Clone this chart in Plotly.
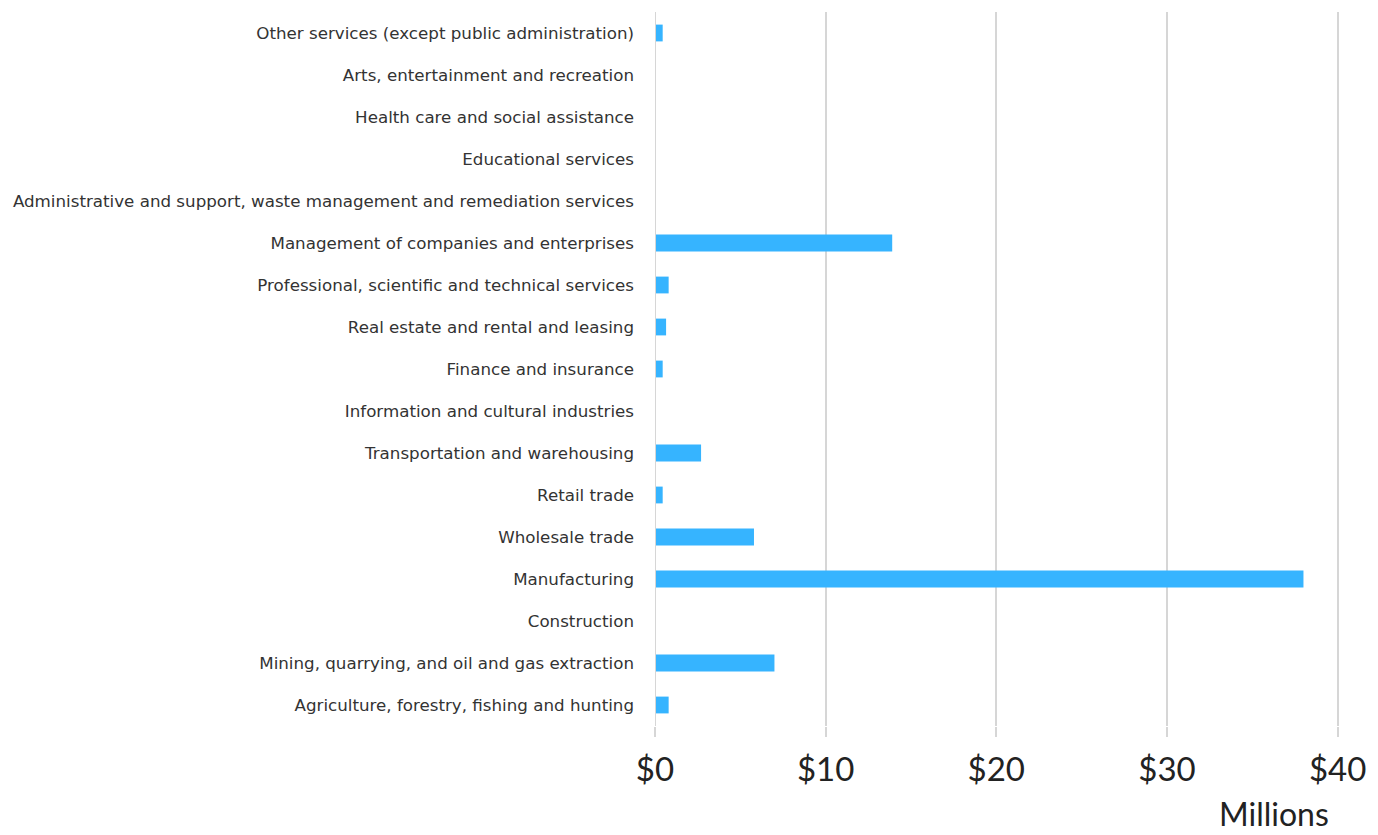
import plotly.graph_objects as go

# Industries, bottom to top as they appear on the y axis
industries = [
    "Agriculture, forestry, fishing and hunting",
    "Mining, quarrying, and oil and gas extraction",
    "Construction",
    "Manufacturing",
    "Wholesale trade",
    "Retail trade",
    "Transportation and warehousing",
    "Information and cultural industries",
    "Finance and insurance",
    "Real estate and rental and leasing",
    "Professional, scientific and technical services",
    "Management of companies and enterprises",
    "Administrative and support, waste management and remediation services",
    "Educational services",
    "Health care and social assistance",
    "Arts, entertainment and recreation",
    "Other services (except public administration)",
]

# Values in millions of dollars
values_millions = [0.8, 7.0, 0.0, 38.0, 5.8, 0.45, 2.7, 0.0, 0.45, 0.65, 0.8, 13.9, 0.0, 0.0, 0.0, 0.0, 0.45]

x_ticks = [0, 10, 20, 30, 40]
x_tick_labels = ["$0", "$10", "$20", "$30", "$40"]

fig = go.Figure(
    go.Bar(
        x=values_millions,
        y=industries,
        orientation="h",
        marker=dict(color="#36b4ff", line=dict(width=0)),
    )
)

grid_color = "#d6d6d6"

fig.update_layout(
    width=1378,
    height=835,
    margin=dict(l=655, r=35, t=12, b=109),
    paper_bgcolor="white",
    plot_bgcolor="white",
    bargap=0.6,
    showlegend=False,
    font=dict(family="Lato", color="#333333"),
    xaxis=dict(
        range=[0, 40.2],
        tickvals=x_ticks,
        ticktext=x_tick_labels,
        showgrid=True,
        gridcolor=grid_color,
        gridwidth=2,
        zeroline=False,
        showline=False,
        ticks="outside",
        ticklen=10,
        tickwidth=2,
        tickcolor=grid_color,
        tickfont=dict(size=33, color="#222222"),
        ticklabelstandoff=4,
        fixedrange=True,
    ),
    yaxis=dict(
        categoryorder="array",
        categoryarray=industries,
        showgrid=False,
        zeroline=False,
        showline=False,
        ticks="",
        tickfont=dict(size=16.7, color="#333333", family="DejaVu Sans"),
        ticklabelstandoff=20,
        fixedrange=True,
    ),
    annotations=[
        dict(
            text="Millions",
            xref="paper",
            yref="paper",
            x=0.985,
            y=-0.1527,
            xanchor="right",
            yanchor="bottom",
            showarrow=False,
            font=dict(size=32, color="#222222", family="Lato"),
        )
    ],
)

# Zero reference line in the same grey as the gridlines
fig.add_vline(x=0, line=dict(color=grid_color, width=2))

fig.write_html("out.html")
